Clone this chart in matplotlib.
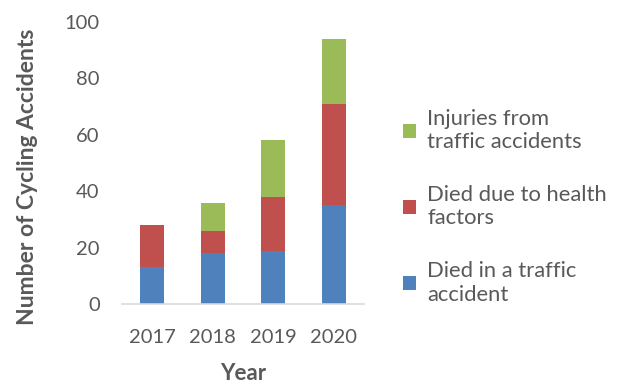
import matplotlib.pyplot as plt
import numpy as np

years = ['2017', '2018', '2019', '2020']
died_traffic = [13, 18, 19, 35]
died_health = [15, 8, 19, 36]
injuries = [0, 10, 20, 23]

plt.rcParams['font.family'] = ['Lato', 'DejaVu Sans']

fig = plt.figure(figsize=(6.22, 3.85), dpi=100)
ax = fig.add_axes([0.196, 0.21, 0.389, 0.733])

x = np.arange(len(years))
w = 0.4
blue = '#4f81bd'
red = '#c0504d'
green = '#9bbb59'

b1 = ax.bar(x, died_traffic, w, color=blue, label='Died in a traffic\naccident')
b2 = ax.bar(x, died_health, w, bottom=died_traffic, color=red,
            label='Died due to health\nfactors')
bottom2 = np.array(died_traffic) + np.array(died_health)
b3 = ax.bar(x, injuries, w, bottom=bottom2, color=green,
            label='Injuries from\ntraffic accidents')

ax.set_xlim(-0.5, 3.5)
ax.set_ylim(0, 100)
ax.set_yticks(range(0, 101, 20))
ax.set_xticks(x)
ax.set_xticklabels(years)
for s in ['top', 'right', 'left']:
    ax.spines[s].set_visible(False)
ax.spines['bottom'].set_color('#d9d9d9')
ax.spines['bottom'].set_linewidth(1.2)
ax.tick_params(axis='x', length=0, labelsize=14.5, colors='#595959', pad=18)
ax.tick_params(axis='y', length=0, labelsize=14.5, colors='#595959', pad=16)

ax.set_xlabel('Year', fontsize=16, fontweight='bold', color='#595959')
ax.set_ylabel('Number of Cycling Accidents', fontsize=16.5, fontweight='bold',
              color='#595959')
ax.xaxis.set_label_coords(0.5, -0.21)
ax.yaxis.set_label_coords(-0.345, 0.45)

leg = ax.legend(handles=[b3, b2, b1], loc='center left', bbox_to_anchor=(1.08, 0.345),
                frameon=False, fontsize=15.8, handlelength=0.6, handleheight=0.6,
                handletextpad=0.5, labelspacing=1.5)
for t in leg.get_texts():
    t.set_color('#595959')

fig.savefig('out.png', dpi=100)
